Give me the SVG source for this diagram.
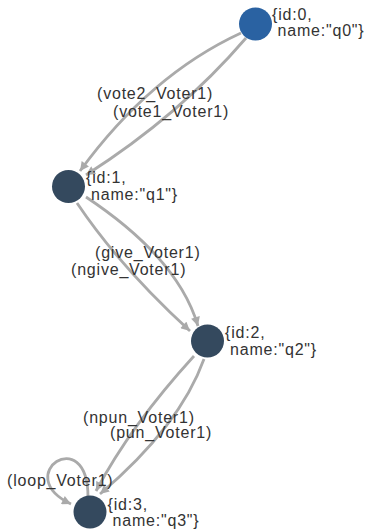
<svg xmlns="http://www.w3.org/2000/svg" width="368" height="531" viewBox="0 0 368 531">
  <style>
    .edge { fill: none; stroke: #aaaaaa; stroke-width: 2.8; marker-end: url(#arrow); }
    .elabel, .nlabel { font-family: "Liberation Sans", Arial, sans-serif; font-size: 16px; letter-spacing: 0.8px; fill: #333333; }
    .node { fill: #34495e; }
    .node.start { fill: #2a62a2; }
  </style>
  <defs>
    <marker id="arrow" viewBox="0 0 10 10" refX="10" refY="5" markerWidth="10" markerHeight="9" markerUnits="userSpaceOnUse" orient="auto">
      <path d="M0,0 L10,5 L0,10 z" fill="#aaaaaa"/>
    </marker>
  </defs>

  <rect width="368" height="531" fill="#ffffff"/>

  <g id="connectors">
    <path class="edge" d="M 241 33 Q 150 75 80 171"/>
    <path class="edge" d="M 246 38 Q 180 115 86 175"/>
    <path class="edge" d="M 77 203 Q 120 267 190 331"/>
    <path class="edge" d="M 86 197 Q 178 258 198 326"/>
    <path class="edge" d="M 194 356 Q 131 425 96 491"/>
    <path class="edge" d="M 204 359 Q 180 426 100 494"/>
    <path class="edge" d="M 88 497 C 88 422, 10 475, 71 504"/>
    <text class="elabel" x="97" y="99">(vote2_Voter1)</text>
    <text class="elabel" x="113" y="117">(vote1_Voter1)</text>
    <text class="elabel" x="95" y="258">(give_Voter1)</text>
    <text class="elabel" x="71" y="275">(ngive_Voter1)</text>
    <text class="elabel" x="83" y="423">(npun_Voter1)</text>
    <text class="elabel" x="110" y="438">(pun_Voter1)</text>
    <text class="elabel" x="7" y="486">(loop_Voter1)</text>
  </g>

  <g id="q0">
    <circle class="node start" cx="255.5" cy="24" r="16.5"/>
    <text class="nlabel" x="272" y="20">{id:0,<tspan x="277.5" y="36">name:"q0"}</tspan></text>
  </g>
  <g id="q1">
    <circle class="node" cx="68.5" cy="186.5" r="16.5"/>
    <text class="nlabel" x="86" y="183">{id:1,<tspan x="91" y="200">name:"q1"}</tspan></text>
  </g>
  <g id="q2">
    <circle class="node" cx="207.5" cy="341" r="16.5"/>
    <text class="nlabel" x="225" y="338">{id:2,<tspan x="230" y="355">name:"q2"}</tspan></text>
  </g>
  <g id="q3">
    <circle class="node" cx="90" cy="512" r="16.5"/>
    <text class="nlabel" x="107.5" y="509.5">{id:3,<tspan x="112.5" y="526">name:"q3"}</tspan></text>
  </g>
</svg>
